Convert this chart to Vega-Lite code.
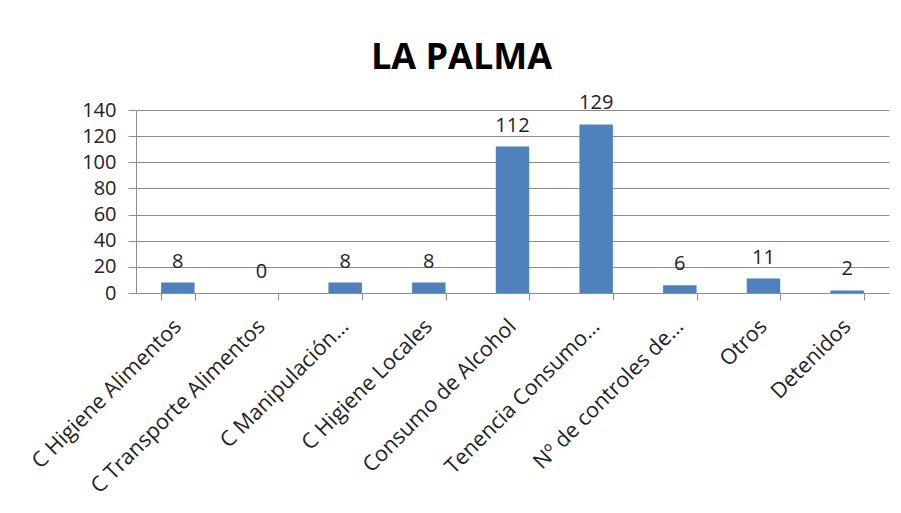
{
  "$schema": "https://vega.github.io/schema/vega-lite/v6.json",
  "autosize": {"type": "none"},
  "width": 753,
  "height": 183,
  "padding": {"left": 136, "top": 110, "right": 12, "bottom": 220},
  "background": "white",
  "title": {
    "text": "LA PALMA",
    "font": "Open Sans",
    "fontSize": 36,
    "fontWeight": "bold",
    "color": "#000000",
    "anchor": "middle",
    "dx": -51,
    "offset": 16
  },
  "data": {
    "values": [
      {"categoria": "C Higiene Alimentos", "valor": 8},
      {"categoria": "C Transporte Alimentos", "valor": 0},
      {"categoria": "C Manipulación…", "valor": 8},
      {"categoria": "C Higiene Locales", "valor": 8},
      {"categoria": "Consumo de Alcohol", "valor": 112},
      {"categoria": "Tenencia Consumo…", "valor": 129},
      {"categoria": "Nº de controles de…", "valor": 6},
      {"categoria": "Otros", "valor": 11},
      {"categoria": "Detenidos", "valor": 2}
    ]
  },
  "encoding": {
    "x": {
      "field": "categoria",
      "type": "nominal",
      "sort": null,
      "scale": {"paddingInner": 0.6, "paddingOuter": 0.3},
      "axis": {
        "title": null,
        "labelAngle": -45,
        "labelAlign": "right",
        "labelBaseline": "middle",
        "labelFont": "Open Sans",
        "labelFontSize": 21.5,
        "labelColor": "#222222",
        "labelPadding": 23,
        "labelLimit": 400,
        "tickBand": "extent",
        "tickSize": 7,
        "tickColor": "#8c8c8c",
        "domainColor": "#8c8c8c",
        "grid": false
      }
    },
    "y": {
      "field": "valor",
      "type": "quantitative",
      "scale": {"domain": [0, 140], "nice": false},
      "axis": {
        "title": null,
        "values": [0, 20, 40, 60, 80, 100, 120, 140],
        "labelFont": "Open Sans",
        "labelFontSize": 20,
        "labelColor": "#222222",
        "labelPadding": 12,
        "tickSize": 8,
        "tickColor": "#8c8c8c",
        "domainColor": "#8c8c8c",
        "grid": true,
        "gridColor": "#8c8c8c",
        "gridOpacity": 1
      }
    }
  },
  "layer": [
    {"mark": {"type": "bar", "color": "#4F81BD"}},
    {
      "mark": {
        "type": "text",
        "font": "Open Sans",
        "fontSize": 20,
        "color": "#222222",
        "baseline": "alphabetic",
        "dy": -15
      },
      "encoding": {"text": {"field": "valor", "type": "quantitative"}}
    }
  ],
  "config": {
    "view": {"stroke": null}
  }
}
